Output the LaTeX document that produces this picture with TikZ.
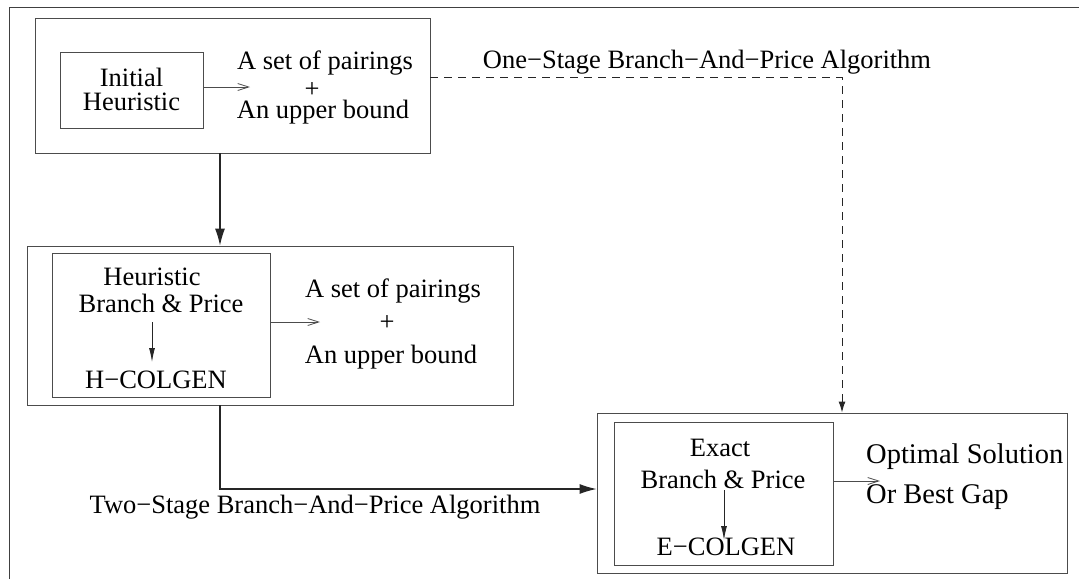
\documentclass[tikz,border=0pt]{standalone}
\usepackage{fontspec}
\setmainfont{Liberation Serif}
\usetikzlibrary{arrows.meta}
\begin{document}
\begin{tikzpicture}[x=1pt,y=-1pt,
  box/.style={draw=black!70, line width=0.9pt, inner sep=0pt},
  txt/.style={font=\fontsize{26.5}{30}\selectfont, inner sep=0pt, anchor=base, text=black},
  bigtxt/.style={txt, font=\fontsize{28.5}{32}\selectfont, anchor=base west},
  bigarrow/.style={draw=black!85, line width=1.1pt, -{Latex[length=17pt,width=10pt]}},
  thinarrow/.style={draw=black!70, line width=0.8pt, -{Straight Barb[length=11pt,width=7pt]}},
  smallarrow/.style={draw=black!85, line width=0.9pt, -{Latex[length=14pt,width=6pt]}},
  dasharrow/.style={draw=black!85, line width=1pt, dash pattern=on 8pt off 6pt, -{Latex[length=11pt,width=7pt]}}]
\useasboundingbox (0,0) rectangle (1079,579);
% frame
\draw[black!75, line width=1pt] (9,579) -- (9,7) -- (1079,7);

% boxes
\node[box, minimum width=395pt, minimum height=135pt] (box1) at (232.5,85.5) {};
\node[box, minimum width=143pt, minimum height=76pt] (ih) at (131.5,90) {};
\node[box, minimum width=486pt, minimum height=159pt] (box2) at (270,325.5) {};
\node[box, minimum width=218pt, minimum height=144pt] (hb) at (161,325) {};
\node[box, minimum width=470pt, minimum height=160pt] (box3) at (832,493) {};
\node[box, minimum width=219pt, minimum height=143pt] (eb) at (723.5,493.5) {};

% box 1 texts
\node[txt] (t1a) at (131.5,86) {Initial};
\node[txt] (t1b) at (131.5,110) {Heuristic};
\node[txt] (p1a) at (325,69) {A set of pairings};
\node[txt, anchor=center] (p1b) at (312,90) {+};
\node[txt] (p1c) at (323,118) {An upper bound};
\coordinate (a1) at (250,87);
\draw[thinarrow] (ih.east |- a1) -- (a1);

% box 2 texts
\node[txt] (t2a) at (152,285) {Heuristic};
\node[txt] (t2b) at (161,312) {Branch \& Price};
\node[txt] (t2c) at (156,388) {H−COLGEN};
\coordinate (a2) at (152,322);
\coordinate (a2e) at (152,362);
\draw[smallarrow] (a2) -- (a2e);
\node[txt] (p2a) at (393,297) {A set of pairings};
\node[txt, anchor=center] (p2b) at (387,323) {+};
\node[txt] (p2c) at (391,363) {An upper bound};
\coordinate (a3) at (320,322);
\draw[thinarrow] (hb.east |- a3) -- (a3);

% box 3 texts
\node[txt] (t3a) at (720,456) {Exact};
\node[txt] (t3b) at (723,488) {Branch \& Price};
\node[txt] (t3c) at (726,555) {E−COLGEN};
\coordinate (a4) at (724,490);
\coordinate (a4e) at (724,540);
\draw[smallarrow] (a4) -- (a4e);
\node[bigtxt] (o1) at (866,463) {Optimal Solution};
\node[bigtxt] (o2) at (866,503) {Or Best Gap};
\coordinate (a5) at (880,481);
\draw[thinarrow] (eb.east |- a5) -- (a5);

% main connectors
\coordinate (c1) at (220,0);
\draw[bigarrow] (c1 |- box1.south) -- (c1 |- box2.north);
\coordinate (d1) at (842,77.7);
\draw[dasharrow] (box1.east |- d1) -| (box3.north -| d1);
\node[txt] (l1) at (707,68) {One−Stage Branch−And−Price Algorithm};
\coordinate (c2) at (0,489);
\draw[bigarrow] (c1 |- box2.south) |- (box3.west |- c2);
\node[txt] (l2) at (315,513) {Two−Stage Branch−And−Price Algorithm};
\end{tikzpicture}
\end{document}
